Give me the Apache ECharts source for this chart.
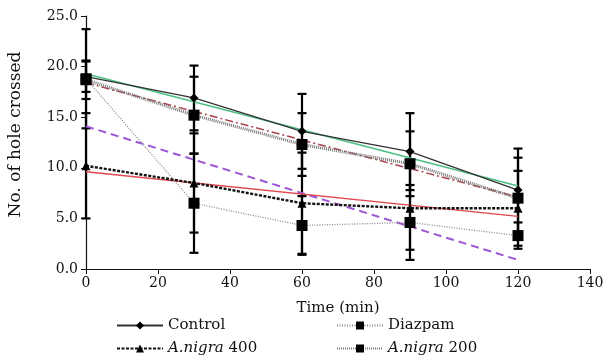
<!DOCTYPE html>
<html><head><meta charset="utf-8">
<script src="https://cdn.jsdelivr.net/npm/echarts@6/dist/echarts.min.js"></script>
<style>html,body{margin:0;padding:0;background:#fff}#c{width:606px;height:360px}</style>
</head><body><div id="c"></div>
<script>
const times = [0, 30, 60, 90, 120];
const controlMean = [19.0, 16.9, 13.6, 11.6, 7.8];
const controlErr  = [1.5, 3.2, 3.7, 3.8, 4.1];
const diazMean = [18.8, 6.5, 4.3, 4.6, 3.3];
const diazErr  = [4.9, 4.9, 2.9, 3.7, 1.3];
const an400Mean = [10.2, 8.5, 6.5, 6.0, 6.0];
const an400Err  = [5.2, 4.9, 5.0, 4.1, 3.7];
const an200Mean = [18.7, 15.2, 12.3, 10.4, 7.0];
const an200Err  = [1.9, 3.8, 3.1, 3.2, 4.0];
// linear trend lines (start at 0, end at 120)
const trendX = [0, 120];
const trendControl = [19.3, 8.2];
const trendAn200 = [18.4, 7.1];
const trendDiaz = [14.1, 0.9];
const trendAn400 = [9.6, 5.2];
const xTicks = [0, 20, 40, 60, 80, 100, 120, 140];
const yTicks = [0, 5, 10, 15, 20, 25];

const FONT = 'DejaVu Serif';
const pts = (m) => times.map((t, i) => [t, m[i]]);
const errData = (m, e) => times.map((t, i) => [t, m[i] - e[i], m[i] + e[i]]);
const trend = (v) => trendX.map((t, i) => [t, v[i]]);

function errSeries(m, e) {
  return {
    type: 'custom', silent: true, z: 1,
    data: errData(m, e),
    renderItem: function (params, api) {
      const x = api.value(0);
      const lo = api.coord([x, api.value(1)]);
      const hi = api.coord([x, api.value(2)]);
      const w = 4.5;
      const st = { stroke: '#000', lineWidth: 2.2 };
      return { type: 'group', children: [
        { type: 'line', shape: { x1: lo[0], y1: lo[1], x2: hi[0], y2: hi[1] }, style: st },
        { type: 'line', shape: { x1: lo[0] - w, y1: lo[1], x2: lo[0] + w, y2: lo[1] }, style: st },
        { type: 'line', shape: { x1: hi[0] - w, y1: hi[1], x2: hi[0] + w, y2: hi[1] }, style: st }
      ]};
    }
  };
}
function trendSeries(v, color, type, width) {
  return { type: 'line', data: trend(v), symbol: 'none', silent: true, z: 2,
    lineStyle: { color: color, type: type, width: width } };
}
const legTextStyle = { fontFamily: FONT, fontSize: 15, color: '#111',
  rich: { i: { fontStyle: 'italic', fontFamily: FONT, fontSize: 15, color: '#111' } } };
function leg(name, left, top) {
  return { data: [name], left: left, top: top, itemWidth: 46, itemHeight: 10, padding: 0,
    itemGap: 0, selectedMode: false, textStyle: legTextStyle,
    formatter: (n) => n.startsWith('A.nigra') ? '{i|A.nigra} ' + n.split(' ')[1] : n };
}

const chart = echarts.init(document.getElementById('c'), null, { renderer: 'canvas' });
chart.setOption({
  animation: false,
  textStyle: { fontFamily: FONT },
  grid: { left: 86, right: 16, top: 16, bottom: 91, containLabel: false, outerBoundsMode: 'none' },
  xAxis: {
    type: 'value', min: 0, max: 140, interval: 20,
    name: 'Time (min)', nameLocation: 'middle', nameGap: 32,
    nameTextStyle: { fontFamily: FONT, fontSize: 15, color: '#111' },
    axisLine: { lineStyle: { color: '#111', width: 1.2 } },
    axisTick: { inside: false, length: 5, lineStyle: { color: '#111' } },
    axisLabel: { fontFamily: FONT, fontSize: 14, color: '#111', margin: 7 },
    splitLine: { show: false }
  },
  yAxis: {
    type: 'value', min: 0, max: 25, interval: 5,
    name: 'No. of hole crossed', nameLocation: 'middle', nameGap: 62,
    nameTextStyle: { fontFamily: FONT, fontSize: 17, color: '#111', padding: [0, 0, 0, 16] },
    axisLine: { show: true, lineStyle: { color: '#111', width: 1.2 } },
    axisTick: { show: true, length: 5, lineStyle: { color: '#111' } },
    axisLabel: { fontFamily: FONT, fontSize: 14, color: '#111', margin: 8,
      formatter: (v) => v.toFixed(1) },
    splitLine: { show: false }
  },
  legend: [
    leg('Control', 116, 318),
    leg('A.nigra 400', 116, 341),
    leg('Diazpam', 336, 318),
    leg('A.nigra 200', 336, 341)
  ],
  series: [
    errSeries(controlMean, controlErr),
    errSeries(diazMean, diazErr),
    errSeries(an400Mean, an400Err),
    errSeries(an200Mean, an200Err),
    trendSeries(trendControl, '#4cbf82', 'solid', 1.6),
    trendSeries(trendAn200, '#a8404a', [8, 3, 2, 3], 1.5),
    trendSeries(trendDiaz, '#9c55d4', [8, 5], 2),
    trendSeries(trendAn400, '#e0474f', 'solid', 1.5),
    { name: 'Control', type: 'line', data: pts(controlMean), z: 3,
      symbol: 'diamond', symbolSize: 9,
      itemStyle: { color: '#000' }, lineStyle: { color: '#333', width: 1.3 } },
    { name: 'Diazpam', type: 'line', data: pts(diazMean), z: 3,
      symbol: 'rect', symbolSize: 11,
      itemStyle: { color: '#000' }, lineStyle: { color: '#888', width: 1.3, type: [1, 1.5] } },
    { name: 'A.nigra 400', type: 'line', data: pts(an400Mean), z: 3,
      symbol: 'triangle', symbolSize: 9,
      itemStyle: { color: '#000' }, lineStyle: { color: '#111', width: 2.4, type: [3, 1.5] } },
    { name: 'A.nigra 200', type: 'line', data: pts(an200Mean), z: 3,
      symbol: 'rect', symbolSize: 11,
      itemStyle: { color: '#000' }, lineStyle: { color: '#777', width: 3, type: [1, 1] } }
  ]
});
</script></body></html>
